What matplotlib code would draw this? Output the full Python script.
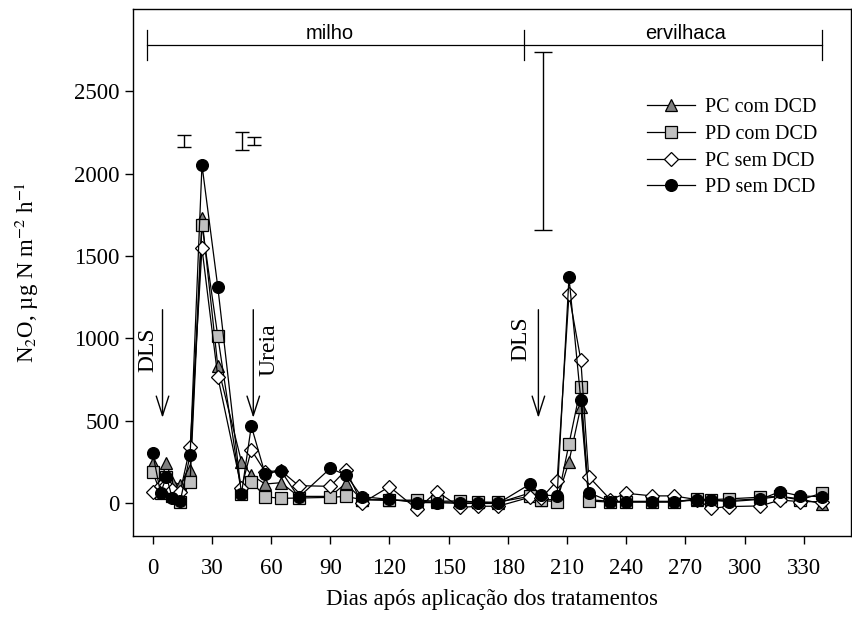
import numpy as np
import matplotlib
matplotlib.use("Agg")
import matplotlib.pyplot as plt

plt.rcParams['font.family'] = ['Liberation Serif', 'DejaVu Serif']
plt.rcParams['mathtext.fontset'] = 'stix'

# sampling days (dias apos aplicacao)
dias = [0, 4, 7, 10, 14, 19, 25, 33, 45, 50, 57, 65, 74, 90, 98, 106, 120, 134,
        144, 156, 165, 175, 191, 197, 205, 211, 217, 221, 232, 240, 253, 264,
        276, 283, 292, 308, 318, 328, 339]

pc_com = [245, 130, 240, 130, 110, 200, 1728, 832, 251, 170, 115, 123, 40, 40,
          120, 20, 20, 10, 5, 5, 5, 0, 60, 20, 20, 251, 585, 20, 10, 10, 10, 10,
          20, 15, 15, 25, 40, 25, -5]
pd_com = [190, 60, 160, 40, 8, 130, 1688, 1014, 55, 130, 38, 28, 30, 34, 40, 20,
          15, 18, 10, 13, 5, 5, 40, 15, 8, 358, 706, 12, 5, 5, 5, 5, 25, 20, 25,
          35, 40, 18, 59]
pc_sem = [69, 100, 110, 80, 69, 340, 1546, 767, 91, 322, 190, 196, 105, 101,
          200, -2, 99, -38, 69, -27, -20, -20, 34, 30, 135, 1267, 868, 160, 20,
          59, 43, 43, 20, -32, -22, -18, 18, 8, 8]
pd_sem = [305, 60, 160, 28, 12, 291, 2052, 1313, 55, 467, 176, 196, 34, 210,
          170, 38, 22, 2, 2, -3, -3, -3, 113, 49, 43, 1370, 625, 63, 8, 8, 8, 8,
          18, 18, 8, 22, 69, 43, 38]

# error bars drawn above the peaks
err_dias = [15.7, 45.3, 51.2, 198]
err_lo = [2163, 2143, 2174, 1658]
err_hi = [2234, 2254, 2224, 2738]

fig = plt.figure(figsize=(8.52, 6.29), dpi=100)
ax = fig.add_axes([0.156, 0.148, 0.843, 0.838])

series = [
    (pc_com, '^', '#808080', 'PC com DCD'),
    (pd_com, 's', '#c0c0c0', 'PD com DCD'),
    (pc_sem, 'D', 'white', 'PC sem DCD'),
    (pd_sem, 'o', 'black', 'PD sem DCD'),
]
for vals, mk, fc, lab in series:
    ms = 7 if mk == 'D' else 8.5
    ax.plot(dias, vals, color='black', lw=0.9, marker=mk, ms=ms, mfc=fc,
            mec='black', mew=0.9, label=lab)

for d, lo, hi in zip(err_dias, err_lo, err_hi):
    cap = 6.5 if hi - lo > 500 else 5
    ax.errorbar([d], [(lo + hi) / 2], yerr=[(hi - lo) / 2], fmt='none',
                ecolor='black', elinewidth=1, capsize=cap, capthick=1)

# crop periods bar
ax.plot([-3, 339], [2780, 2780], color='black', lw=0.9)
for d in [-3, 188, 339]:
    ax.plot([d, d], [2690, 2870], color='black', lw=0.9)
ax.text(90, 2790, 'milho', ha='center', va='bottom', fontsize=14.5,
        family='Liberation Sans')
ax.text(270, 2790, 'ervilhaca', ha='center', va='bottom', fontsize=14.5,
        family='Liberation Sans')

# application arrows
arrow_kw = dict(arrowstyle='->,head_length=1.4,head_width=0.45', color='black', lw=1)
ax.annotate('', xy=(5, 500), xytext=(5, 1190), arrowprops=arrow_kw)
ax.annotate('', xy=(51, 500), xytext=(51, 1190), arrowprops=arrow_kw)
ax.annotate('', xy=(195.5, 500), xytext=(195.5, 1190), arrowprops=arrow_kw)
ax.text(-2.5, 930, 'DLS', rotation=90, ha='center', va='center', fontsize=17)
ax.text(59, 930, 'Ureia', rotation=90, ha='center', va='center', fontsize=17)
ax.text(186.5, 1000, 'DLS', rotation=90, ha='center', va='center', fontsize=17)

ax.set_xlim(-10, 354)
ax.set_ylim(-200, 3000)
ax.set_xticks(np.arange(0, 331, 30))
ax.set_yticks(np.arange(0, 2501, 500))
ax.tick_params(labelsize=16.5, direction='out', length=6, width=1)
ax.tick_params(axis='x', pad=10)
for s in ax.spines.values():
    s.set_linewidth(1)

ax.set_xlabel('Dias após aplicação dos tratamentos', fontsize=16.5, labelpad=7)
ax.set_ylabel(r'N$_2$O, µg N m$^{-2}$ h$^{-1}$', fontsize=16.5, labelpad=24)

ax.legend(loc='upper left', bbox_to_anchor=(0.69, 0.865), frameon=False,
          fontsize=14.5, handlelength=2.4, labelspacing=0.38, handletextpad=0.5)

fig.savefig('out.png', dpi=100)
